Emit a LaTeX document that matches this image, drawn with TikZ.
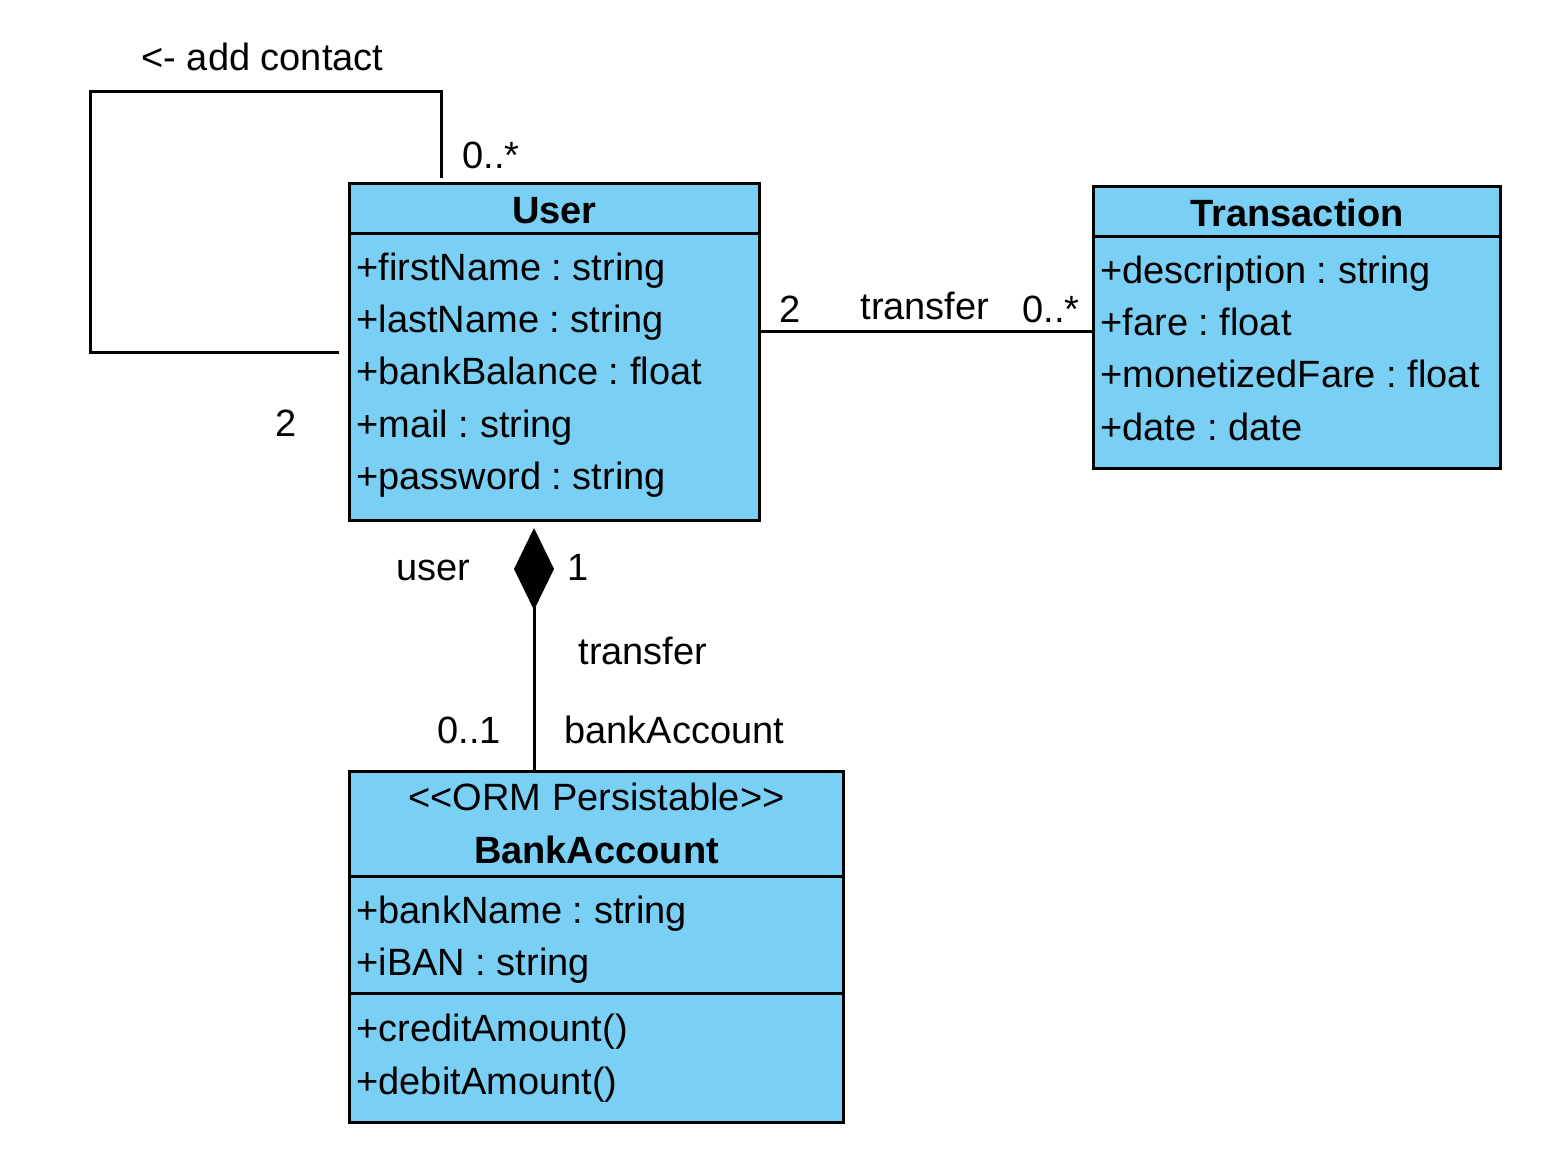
\documentclass[tikz,border=0pt]{standalone}
\usepackage{fontspec}
\setmainfont{Liberation Sans}
\usetikzlibrary{calc}
\usetikzlibrary{arrows.meta}
\usetikzlibrary{positioning}
\definecolor{classblue}{HTML}{7ACFF5}
\frenchspacing
\tikzset{
  every node/.style = {font = \fontsize{19}{23}\selectfont, inner sep=0pt}
}
\tikzset{
  classbox/.style = {draw, fill=classblue, line width=1.5pt, anchor=north west},
  attr/.style = {anchor=base west},
  lbl/.style = {anchor=base west},
  title/.style = {anchor=base, font=\fontsize{19}{23}\selectfont\bfseries}
}

\begin{document}
\begin{tikzpicture}[x=0.5pt, y=-0.5pt, line width=1.5pt]
\useasboundingbox (0,0) rectangle (1548,1149);

% The classes
\node[classbox, minimum width=205pt, minimum height=168.5pt] (user) at (348,182) {};
\node[classbox, minimum width=203.5pt, minimum height=141pt] (trans) at (1092,185) {};
\node[classbox, minimum width=247pt, minimum height=175.5pt] (bank) at (348,770) {};

% Compartment lines
\draw (user.west |- 0,234) -- (user.east |- 0,234);
\draw (trans.west |- 0,237) -- (trans.east |- 0,237);
\draw (bank.west |- 0,876) -- (bank.east |- 0,876);
\draw (bank.west |- 0,993) -- (bank.east |- 0,993);

% User
\node[title] (username) at (user.north |- 0,224) {User};
\node[attr] (ufirst) at (355,281) {+firstName : string};
\node[attr] (ulast) at (355,333) {+lastName : string};
\node[attr] (ubal) at (355,385) {+bankBalance : float};
\node[attr] (umail) at (355,438) {+mail : string};
\node[attr] (upass) at (355,490) {+password : string};

% Transaction
\node[title] (transname) at (trans.north |- 0,227) {Transaction};
\node[attr] (tdesc) at (1099,284) {+description : string};
\node[attr] (tfare) at (1099,336) {+fare : float};
\node[attr] (tmon) at (1099,388) {+monetizedFare : float};
\node[attr] (tdate) at (1099,441) {+date : date};

% BankAccount
\node[anchor=base] (bankstereo) at (bank.north |- 0,810) {<{}<ORM Persistable>{}>};
\node[title] (bankname) at (bank.north |- 0,863) {BankAccount};
\node[attr] (bname) at (355,923) {+bankName : string};
\node[attr] (biban) at (355,975) {+iBAN : string};
\node[attr] (bcredit) at (355,1041) {+creditAmount()};
\node[attr] (bdebit) at (355,1094) {+debitAmount()};

% Self association, add contact
\coordinate (loopx) at (441,0);
\draw ($(user.north -| loopx)+(0,-4)$) |- (90,92)
  |- ($(user.west |- 0,353)+(-9,0)$);
\node[lbl] (contact) at (140,71) {<- add contact};
\node[lbl] (contactmany) at (461,169) {0..*};
\node[lbl] (contacttwo) at (274,437) {2};

% Association, transfer
\coordinate (tline) at (0,332);
\draw (user.east |- tline) -- (trans.west |- tline);
\node[lbl] (ttwo) at (778,323) {2};
\node[lbl] (tname) at (859,320) {transfer};
\node[lbl] (tmany) at (1021,323) {0..*};

% Composition, bankAccount
\coordinate (comp) at (534,0);
\draw[{Diamond[length=41pt,width=20pt]}-, shorten <=3pt]
  (user.south -| comp) -- (bank.north -| comp);
\node[lbl] (cuser) at (395,581) {user};
\node[lbl] (cone) at (566,581) {1};
\node[lbl] (cname) at (577,665) {transfer};
\node[lbl] (cmult) at (436,743) {0..1};
\node[lbl] (cbank) at (563,743) {bankAccount};
\end{tikzpicture}
\end{document}
